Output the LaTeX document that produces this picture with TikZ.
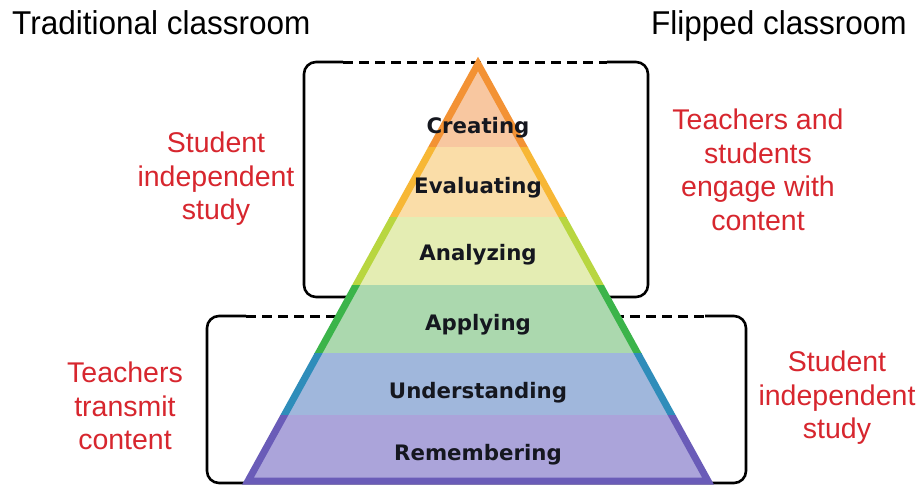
\documentclass[tikz,border=0pt]{standalone}
\usepackage{fontspec}
\setmainfont{Liberation Sans}
\newfontfamily\lblfont{DejaVu Sans}
\definecolor{redtxt}{HTML}{D7262E}
\definecolor{cF}{HTML}{F8C7A0}\definecolor{cS}{HTML}{F39234}
\definecolor{eF}{HTML}{FADDA8}\definecolor{eS}{HTML}{F7B735}
\definecolor{aF}{HTML}{E4EDB3}\definecolor{aS}{HTML}{B8D640}
\definecolor{pF}{HTML}{ABD8AE}\definecolor{pS}{HTML}{3BB44A}
\definecolor{uF}{HTML}{A0B7DC}\definecolor{uS}{HTML}{2F8DBA}
\definecolor{rF}{HTML}{ABA4DA}\definecolor{rS}{HTML}{6A5CB8}
\definecolor{lbl}{HTML}{15171F}
\tikzset{
  title/.style={font=\fontsize{33}{36}\selectfont, text=black, inner sep=0pt},
  note/.style={font=\fontsize{28.5}{33.5}\selectfont, text=redtxt, align=center, inner sep=0pt},
  level/.style={font=\lblfont\bfseries\fontsize{21.3}{24}\selectfont, text=lbl, inner sep=0pt, anchor=base},
  bracket/.style={line width=2.6pt, rounded corners=12pt},
  bracketdash/.style={line width=3pt, dash pattern=on 10pt off 6pt},
}
\newcommand{\pyrband}[4]{%
  \begin{scope}
    \clip (0,#1) rectangle (923,#2);
    \fill[#3] (apex) -- (bl) -- (br) -- cycle;
    \draw[#4, line width=7pt, line join=miter] (apex) -- (bl) -- (br) -- cycle;
  \end{scope}}
\begin{document}
\begin{tikzpicture}[x=1pt,y=-1pt]
\useasboundingbox (0,0) rectangle (923,488);
\fill[white] (0,0) rectangle (923,488);
% coordinates
\coordinate (apex) at (478,64);
\coordinate (bl) at (248,481);
\coordinate (br) at (708,481);
% upper bracket
\coordinate (u1) at (343,62);
\coordinate (u2) at (607,62);
\draw[bracket] (u1) -- (304,62) -- (304,297) -- (648,297) -- (648,62) -- (u2);
\draw[bracketdash] (u1) -- (u2);
% lower bracket
\coordinate (l1) at (246,316);
\coordinate (l2) at (705,316);
\draw[bracket] (l1) -- (207,316) -- (207,483) -- (746,483) -- (746,316) -- (l2);
\draw[bracketdash] (l1) -- (l2);
% pyramid bands
\pyrband{0}{147}{cF}{cS}
\pyrband{147}{217}{eF}{eS}
\pyrband{217}{285}{aF}{aS}
\pyrband{285}{353}{pF}{pS}
\pyrband{353}{415}{uF}{uS}
\pyrband{415}{488}{rF}{rS}
% level labels
\node[level] (creating) at (478,133) {Creating};
\node[level] (evaluating) at (478,193) {Evaluating};
\node[level] (analyzing) at (478,260) {Analyzing};
\node[level] (applying) at (478,330) {Applying};
\node[level] (understanding) at (478,398) {Understanding};
\node[level] (remembering) at (478,460) {Remembering};
% titles
\node[title, anchor=base west] (trad) at (12,34) {\scalebox{0.955}[1]{Traditional classroom}};
\node[title, anchor=base east] (flip) at (907,34) {\scalebox{0.955}[1]{Flipped classroom}};
% notes
\node[note] (sisUp) at (216,179) {Student\\independent\\study};
\node[note] (teach) at (758,170) {Teachers and\\students\\engage with\\content};
\node[note] (trans) at (125,406) {Teachers\\transmit\\content};
\node[note] (sisLow) at (837,398) {Student\\independent\\study};
\end{tikzpicture}
\end{document}
